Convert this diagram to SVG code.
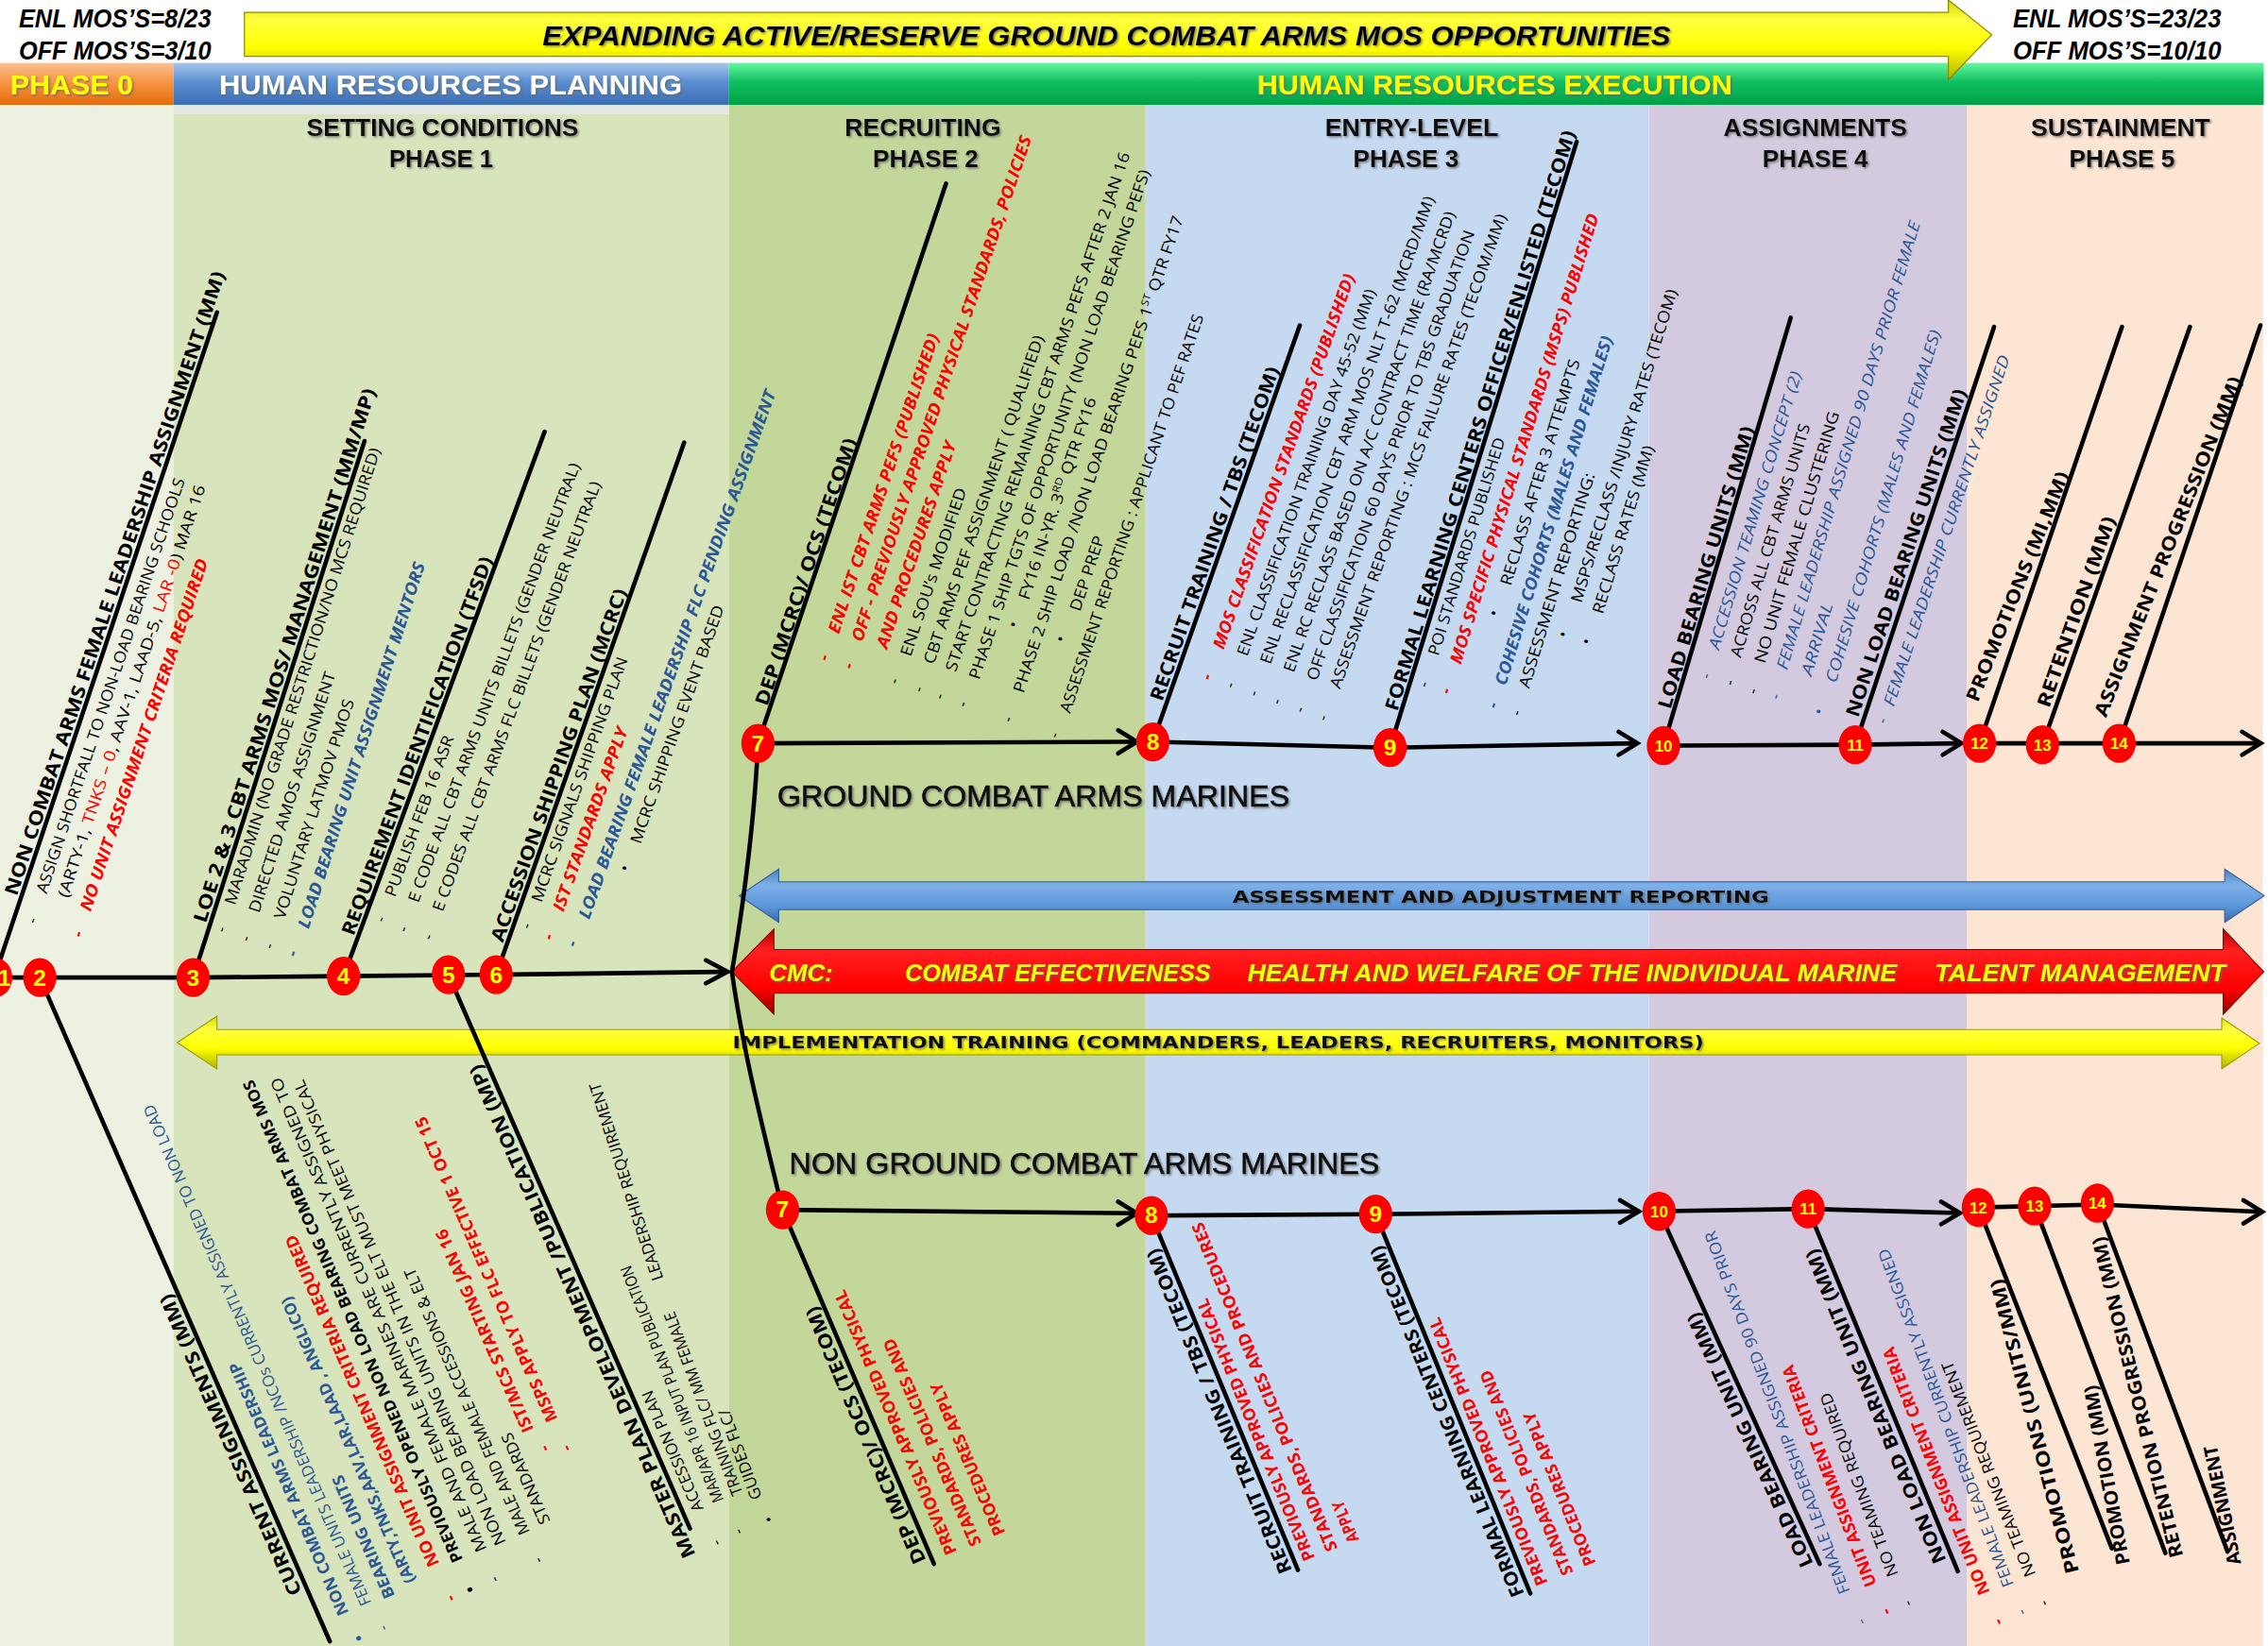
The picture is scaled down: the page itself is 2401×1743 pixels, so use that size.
<svg xmlns="http://www.w3.org/2000/svg" width="2401" height="1743" viewBox="0 0 2401 1743">
<defs>
<style>
.lb{font-family:'Open Sans','DejaVu Sans',sans-serif;font-weight:700;font-size:13px;fill:#000}
.it{font-family:'Open Sans','DejaVu Sans',sans-serif;font-size:11px;fill:#000}
.ib{font-family:'Open Sans','DejaVu Sans',sans-serif;font-weight:700;font-size:11px;fill:#000}
.rb{font-family:'Open Sans','DejaVu Sans',sans-serif;font-weight:700;font-style:italic;font-size:11.5px;fill:#f00}
.rd{font-family:'Open Sans','DejaVu Sans',sans-serif;font-weight:700;font-size:11.5px;fill:#f00}
.bb{font-family:'Open Sans','DejaVu Sans',sans-serif;font-weight:700;font-style:italic;font-size:11.5px;fill:#2B5797}
.bi{font-family:'Open Sans','DejaVu Sans',sans-serif;font-style:italic;font-size:11px;fill:#2B5797}
.bl{font-family:'Open Sans','DejaVu Sans',sans-serif;font-size:11px;fill:#2B5797}
.bu{font-family:'Open Sans','DejaVu Sans',sans-serif;font-weight:700;font-size:11px;fill:#2B5797}
.ttl{font-family:'Liberation Sans',Arial,sans-serif;font-weight:700;font-size:16.5px;fill:#111;text-anchor:middle}
.hd{font-family:'Liberation Sans',Arial,sans-serif;font-weight:700;font-size:19.5px}
.hi{font-family:'Liberation Sans',Arial,sans-serif;font-weight:700;font-style:italic;font-size:18px;fill:#000}
.cmc{font-family:'Liberation Sans',Arial,sans-serif;font-weight:700;font-style:italic;font-size:16.5px;fill:#FFFF00}
.bar{font-family:'DejaVu Sans',Verdana,sans-serif;font-weight:700;font-size:12px;fill:#111}
.mar{font-family:'Liberation Sans',Arial,sans-serif;font-size:20.5px;fill:#111;stroke:#111;stroke-width:0.45}
.num{font-family:'Liberation Sans',Arial,sans-serif;font-weight:700;font-size:16px;fill:#FFFF00;text-anchor:middle}
.ns{font-size:11px}
.node ellipse{fill:#FF0000}
.cn{stroke:#000;stroke-width:3;fill:none;stroke-linecap:round;stroke-linejoin:miter}
</style>
<linearGradient id="gOr" x1="0" y1="0" x2="0" y2="1"><stop offset="0" stop-color="#FAC090"/><stop offset="0.45" stop-color="#F79646"/><stop offset="1" stop-color="#E46C0A"/></linearGradient>
<linearGradient id="gBl" x1="0" y1="0" x2="0" y2="1"><stop offset="0" stop-color="#A7C7EE"/><stop offset="0.45" stop-color="#5B8FD0"/><stop offset="1" stop-color="#3A6DB5"/></linearGradient>
<linearGradient id="gGr" x1="0" y1="0" x2="0" y2="1"><stop offset="0" stop-color="#66F7A0"/><stop offset="0.45" stop-color="#10C060"/><stop offset="1" stop-color="#00A046"/></linearGradient>
<linearGradient id="gYe" x1="0" y1="0" x2="0" y2="1"><stop offset="0" stop-color="#D8D800"/><stop offset="0.25" stop-color="#FFFF40"/><stop offset="0.6" stop-color="#FFFF00"/><stop offset="1" stop-color="#B0B000"/></linearGradient>
<linearGradient id="gRd" x1="0" y1="0" x2="0" y2="1"><stop offset="0" stop-color="#B00000"/><stop offset="0.25" stop-color="#FF2020"/><stop offset="0.7" stop-color="#FF0000"/><stop offset="1" stop-color="#900000"/></linearGradient>
<linearGradient id="gBa" x1="0" y1="0" x2="0" y2="1"><stop offset="0" stop-color="#4A7FC0"/><stop offset="0.3" stop-color="#7FB0E8"/><stop offset="0.7" stop-color="#5A95D8"/><stop offset="1" stop-color="#3A6AAA"/></linearGradient>
<filter id="sh" x="-5%" y="-20%" width="110%" height="150%"><feDropShadow dx="1" dy="1" stdDeviation="0.7" flood-color="#666" flood-opacity="0.8"/></filter>
</defs>
<rect width="2401" height="1743" fill="#fff"/>
<g transform="scale(1.5313)">
<g id="columns">
<rect x="0" y="72" width="120" height="1070" fill="#EDF1E1"/>
<rect x="120" y="72" width="384" height="1070" fill="#D8E4BC"/>
<rect x="504" y="72" width="288" height="1070" fill="#C4D79B"/>
<rect x="792" y="72" width="348" height="1070" fill="#C5D9F1"/>
<rect x="1140" y="72" width="220" height="1070" fill="#D3CADF"/>
<rect x="1360" y="72" width="204.5" height="1070" fill="#FDE5D3"/>
<rect x="120" y="72" width="384" height="7" fill="#E6E8E2"/>
</g>
<g id="header">
<rect x="0" y="43.5" width="120" height="29" fill="url(#gOr)"/>
<rect x="120" y="43.5" width="384" height="29" fill="url(#gBl)"/>
<rect x="504" y="43.5" width="1061" height="29" fill="url(#gGr)"/>
<text class="hd" x="7" y="65" textLength="85" lengthAdjust="spacingAndGlyphs" fill="#FFFF00" filter="url(#sh)">PHASE 0</text>
<text class="hd" x="151.5" y="65" textLength="320" lengthAdjust="spacingAndGlyphs" fill="#fff" filter="url(#sh)">HUMAN RESOURCES PLANNING</text>
<text class="hd" x="869" y="65" textLength="328.5" lengthAdjust="spacingAndGlyphs" fill="#FFFF00" filter="url(#sh)">HUMAN RESOURCES EXECUTION</text>
<path d="M169 8.5 L1347 8.5 L1347 0 L1377 24 L1347 55 L1347 39 L169 39 Z" fill="url(#gYe)" stroke="#8C8C00" stroke-width="0.8"/>
<text class="hd" x="375" y="31.4" textLength="780" lengthAdjust="spacingAndGlyphs" font-style="italic" fill="#000" filter="url(#sh)">EXPANDING ACTIVE/RESERVE GROUND COMBAT ARMS MOS OPPORTUNITIES</text>
<text class="hi" x="13" y="19" textLength="133" lengthAdjust="spacingAndGlyphs">ENL MOS’S=8/23</text>
<text class="hi" x="13" y="41" textLength="133" lengthAdjust="spacingAndGlyphs">OFF MOS’S=3/10</text>
<text class="hi" x="1391.6" y="19" textLength="144" lengthAdjust="spacingAndGlyphs">ENL MOS’S=23/23</text>
<text class="hi" x="1391.6" y="41" textLength="144" lengthAdjust="spacingAndGlyphs">OFF MOS’S=10/10</text>
</g>
<g id="titles" filter="url(#sh)">
<text class="ttl" x="306" y="94" textLength="188" lengthAdjust="spacingAndGlyphs">SETTING CONDITIONS</text>
<text class="ttl" x="305" y="115.5" textLength="72" lengthAdjust="spacingAndGlyphs">PHASE 1</text>
<text class="ttl" x="638" y="94" textLength="108" lengthAdjust="spacingAndGlyphs">RECRUITING</text>
<text class="ttl" x="640" y="115.5" textLength="73" lengthAdjust="spacingAndGlyphs">PHASE 2</text>
<text class="ttl" x="976" y="94" textLength="120" lengthAdjust="spacingAndGlyphs">ENTRY-LEVEL</text>
<text class="ttl" x="972" y="115.5" textLength="73" lengthAdjust="spacingAndGlyphs">PHASE 3</text>
<text class="ttl" x="1255" y="94" textLength="127" lengthAdjust="spacingAndGlyphs">ASSIGNMENTS</text>
<text class="ttl" x="1255" y="115.5" textLength="73" lengthAdjust="spacingAndGlyphs">PHASE 4</text>
<text class="ttl" x="1466" y="94" textLength="124" lengthAdjust="spacingAndGlyphs">SUSTAINMENT</text>
<text class="ttl" x="1467" y="115.5" textLength="73" lengthAdjust="spacingAndGlyphs">PHASE 5</text>
</g>
<g id="bands">
<path d="M511 619.4 L538.4 601 L538.4 609.8 L1538 609.8 L1538 601 L1565.4 619.4 L1538 637.8 L1538 629 L538.4 629 L538.4 637.8 Z" fill="url(#gBa)" stroke="#2F5F9F" stroke-width="0.7"/>
<text class="bar" x="852" y="624.3" textLength="371" lengthAdjust="spacingAndGlyphs" filter="url(#sh)">ASSESSMENT AND ADJUSTMENT REPORTING</text>
<path d="M506 672 L535 642.4 L535 656.6 L1537 656.6 L1537 642.4 L1565 672 L1537 701.4 L1537 686.8 L535 686.8 L535 701.4 Z" fill="url(#gRd)" stroke="#800000" stroke-width="0.7"/>
<g filter="url(#sh)">
<text class="cmc" x="531.8" y="678.5" textLength="44" lengthAdjust="spacingAndGlyphs">CMC:</text>
<text class="cmc" x="625.6" y="678.5" textLength="211.4" lengthAdjust="spacingAndGlyphs">COMBAT EFFECTIVENESS</text>
<text class="cmc" x="862.3" y="678.5" textLength="449" lengthAdjust="spacingAndGlyphs">HEALTH AND WELFARE OF THE INDIVIDUAL MARINE</text>
<text class="cmc" x="1337.5" y="678.5" textLength="201" lengthAdjust="spacingAndGlyphs">TALENT MANAGEMENT</text>
</g>
<path d="M122.6 721 L150 702.7 L150 712 L1536 712 L1536 704 L1562 721.5 L1536 739 L1536 729.5 L150 729.5 L150 739.3 Z" fill="url(#gYe)" stroke="#9A9A00" stroke-width="0.7"/>
<text class="bar" x="506.4" y="725" textLength="671.6" lengthAdjust="spacingAndGlyphs" filter="url(#sh)">IMPLEMENTATION TRAINING (COMMANDERS, LEADERS, RECRUITERS, MONITORS)</text>
<text class="mar" x="537.5" y="557.7" textLength="354" lengthAdjust="spacingAndGlyphs" filter="url(#sh)">GROUND COMBAT ARMS MARINES</text>
<text class="mar" x="545.7" y="812" textLength="408" lengthAdjust="spacingAndGlyphs" filter="url(#sh)">NON GROUND COMBAT ARMS MARINES</text>
</g>
<g id="connectors" class="cn">
<path d="M-10 676 L133.5 676 L237.5 675 L343 674 L502 672"/>
<path d="M488 664 L503 672 L488 680"/>
<path d="M524 514 C522 560 515 620 506 672 C514 730 530 790 541 836.6"/>
<path d="M524 514 L785 513"/><path d="M773 505 L786 513 L773 521"/>
<path d="M797 513 L961 517 L1131 514"/><path d="M1119 506 L1132 514 L1119 522"/>
<path d="M1150 515.6 L1282.6 515 L1355 514"/><path d="M1343 506 L1356 514 L1343 522"/>
<path d="M1368.5 514 L1562 514"/><path d="M1550 506 L1563 514 L1550 522"/>
<path d="M541 836.6 L785 839"/><path d="M773 831 L786 839 L773 847"/>
<path d="M796 840.6 L951 839.6 L1132 837.7"/><path d="M1120 830 L1133 837.7 L1120 845.5"/>
<path d="M1147 837.6 L1250 836 L1354 838.8"/><path d="M1342 831 L1355 838.8 L1342 846.6"/>
<path d="M1367.7 835 L1450 833 L1563 838"/><path d="M1551 830 L1564 838 L1551 846"/>
<path d="M-4 676 L150 216"/>
<path d="M133.5 676 L252 305"/>
<path d="M237.5 675 L376.5 298.5"/>
<path d="M343 674 L473 306"/>
<path d="M524 514 L654 127"/>
<path d="M797 513 L898.6 225"/>
<path d="M961 517 L1090 98"/>
<path d="M1150 515.6 L1238 219.7"/>
<path d="M1282.6 515 L1378.6 226"/>
<path d="M1368.5 514 L1467 226"/>
<path d="M1412 515 L1514 226"/>
<path d="M1465 514 L1562.7 225"/>
<path d="M27.5 676 L228 1135"/>
<path d="M310 674 L477 1057"/>
<path d="M541 836.6 L645.7 1081.5"/>
<path d="M796 840.6 L897.3 1085.7"/>
<path d="M951 839.6 L1058 1102"/>
<path d="M1147 837.6 L1258 1081.5"/>
<path d="M1250 836 L1353.5 1086.5"/>
<path d="M1367.7 835 L1460 1070.7"/>
<path d="M1406.6 834 L1497 1074"/>
<path d="M1450 832 L1540 1073"/>
</g>
<g id="lab-1" transform="translate(-4 676) rotate(-71.5)">
<text class="lb" x="58" y="-3" textLength="454" lengthAdjust="spacingAndGlyphs">NON COMBAT ARMS FEMALE LEADERSHIP  ASSIGNMENT (MM)</text>
<text class="it" x="44" y="16">-</text>
<text class="it" x="66" y="16" textLength="302" lengthAdjust="spacingAndGlyphs">ASSIGN SHORTFALL TO NON-LOAD BEARING SCHOOLS</text>
<text class="it" x="68" y="31" textLength="300" lengthAdjust="spacingAndGlyphs">(ARTY-1, <tspan fill="#f00">TNKS – 0</tspan>, AAV-1,  LAAD-5,  <tspan fill="#f00">LAR -0</tspan>)  MAR 16</text>
<text class="rb" x="45" y="49">-</text>
<text class="rb" x="64" y="49" textLength="256" lengthAdjust="spacingAndGlyphs">NO UNIT ASSIGNMENT CRITERIA REQUIRED</text>
</g>
<g id="lab-3" transform="translate(133.5 676) rotate(-72.3)">
<text class="lb" x="38" y="-3" textLength="387" lengthAdjust="spacingAndGlyphs">LOE 2 &amp; 3 CBT ARMS MOS/ MANAGEMENT (MM/MP)</text>
<text class="it" x="36" y="12">-</text>
<text class="it" x="56" y="12.5" textLength="331" lengthAdjust="spacingAndGlyphs">MARADMIN (NO GRADE RESTRICTION/NO MCS REQUIRED)</text>
<text class="it" x="35" y="30">-</text>
<text class="it" x="56" y="30" textLength="174" lengthAdjust="spacingAndGlyphs">DIRECTED AMOS ASSIGNMENT</text>
<text class="it" x="35" y="47">-</text>
<text class="it" x="57" y="48" textLength="159" lengthAdjust="spacingAndGlyphs">VOLUNTARY LATMOV PMOS</text>
<text class="bb" x="35" y="64">-</text>
<text class="bb" x="56" y="66" textLength="265" lengthAdjust="spacingAndGlyphs">LOAD BEARING UNIT ASSIGNMENT MENTORS</text>
</g>
<g id="lab-4" transform="translate(237.5 675) rotate(-69.7)">
<text class="lb" x="28" y="-3" textLength="278" lengthAdjust="spacingAndGlyphs">REQUIREMENT IDENTIFICATION (TFSD)</text>
<text class="it" x="44" y="14">-</text>
<text class="it" x="63" y="14.5" textLength="118" lengthAdjust="spacingAndGlyphs">PUBLISH FEB 16 ASR</text>
<text class="it" x="43" y="31">-</text>
<text class="it" x="65" y="31" textLength="323" lengthAdjust="spacingAndGlyphs">E CODE ALL CBT ARMS UNITS BILLETS (GENDER NEUTRAL)</text>
<text class="it" x="44" y="49">-</text>
<text class="it" x="65" y="49" textLength="316" lengthAdjust="spacingAndGlyphs">E CODES ALL CBT ARMS FLC BILLETS (GENDER NEUTRAL)</text>
</g>
<g id="lab-6" transform="translate(343 674) rotate(-70.5)">
<text class="lb" x="22" y="-3" textLength="258" lengthAdjust="spacingAndGlyphs">ACCESSION SHIPPING PLAN (MCRC)</text>
<text class="it" x="37" y="12">-</text>
<text class="it" x="57" y="13" textLength="179" lengthAdjust="spacingAndGlyphs">MCRC SIGNALS  SHIPPING PLAN</text>
<text class="rb" x="35" y="29">-</text>
<text class="rb" x="56" y="29.5" textLength="134" lengthAdjust="spacingAndGlyphs">IST STANDARDS APPLY</text>
<text class="bb" x="36" y="46">-</text>
<text class="bb" x="57" y="48" textLength="387" lengthAdjust="spacingAndGlyphs">LOAD BEARING  FEMALE LEADERSHIP  FLC  PENDING ASSIGNMENT</text>
<text class="it" x="97" y="63">•</text>
<text class="it" x="118" y="64" textLength="174" lengthAdjust="spacingAndGlyphs">MCRC SHIPPING EVENT BASED</text>
</g>
<g id="lab-7" transform="translate(524 514) rotate(-71.4)">
<text class="lb" x="26" y="-2" textLength="194" lengthAdjust="spacingAndGlyphs">DEP (MCRC)/ OCS (TECOM)</text>
<text class="rb" x="69" y="28">-</text><text class="rb" x="69" y="46">-</text>
<text class="it" x="69" y="79">-</text><text class="it" x="69" y="97">-</text><text class="it" x="69" y="112">-</text><text class="it" x="69" y="129">-</text><text class="it" x="69" y="162">-</text><text class="it" x="69" y="196">-</text>
<text class="rb" x="89" y="29" textLength="218" lengthAdjust="spacingAndGlyphs">ENL IST CBT ARMS PEFS  (PUBLISHED)</text>
<text class="rb" x="89" y="46" textLength="368" lengthAdjust="spacingAndGlyphs">OFF - PREVIOUSLY APPROVED PHYSICAL STANDARDS, POLICIES</text>
<text class="rb" x="90" y="64" textLength="150" lengthAdjust="spacingAndGlyphs">AND PROCEDURES APPLY</text>
<text class="it" x="90" y="81" textLength="122" lengthAdjust="spacingAndGlyphs">ENL SOU’s MODIFIED</text>
<text class="it" x="90" y="98" textLength="239" lengthAdjust="spacingAndGlyphs">CBT ARMS PEF ASSIGNMENT ( QUALIFIED)</text>
<text class="it" x="90" y="114" textLength="378" lengthAdjust="spacingAndGlyphs">START CONTRACTING REMAINING CBT ARMS PEFS AFTER  2 JAN 16</text>
<text class="it" x="90" y="131" textLength="371" lengthAdjust="spacingAndGlyphs">PHASE 1 SHIP TGTS OF OPPORTUNITY  (NON LOAD BEARING PEFS)</text>
<text class="it" x="132" y="145">•</text>
<text class="it" x="153" y="146" textLength="147" lengthAdjust="spacingAndGlyphs">FY16 IN-YR. 3<tspan font-size="7" dy="-4">RD</tspan><tspan dy="4">  QTR FY16</tspan></text>
<text class="it" x="91" y="163" textLength="347" lengthAdjust="spacingAndGlyphs">PHASE 2 SHIP LOAD /NON LOAD BEARING  PEFS  1<tspan font-size="7" dy="-4">ST</tspan><tspan dy="4"> QTR FY17</tspan></text>
<text class="it" x="133" y="179">•</text>
<text class="it" x="157" y="182" textLength="54" lengthAdjust="spacingAndGlyphs">DEP PREP</text>
<text class="it" x="88" y="198" textLength="290" lengthAdjust="spacingAndGlyphs">ASSESSMENT REPORTING : APPLICANT TO PEF RATES</text>
</g>
<g id="lab-8" transform="translate(797 513) rotate(-70.6)">
<text class="lb" x="28" y="-3" textLength="244" lengthAdjust="spacingAndGlyphs">RECRUIT TRAINING / TBS (TECOM)</text>
<text class="rb" x="53" y="24">-</text><text class="it" x="53" y="41">-</text><text class="it" x="53" y="58">-</text><text class="it" x="53" y="75">-</text><text class="it" x="53" y="92">-</text><text class="it" x="53" y="109">-</text>
<text class="rb" x="76" y="25" textLength="274" lengthAdjust="spacingAndGlyphs">MOS CLASSIFICATION STANDARDS (PUBLISHED)</text>
<text class="it" x="77" y="42" textLength="268" lengthAdjust="spacingAndGlyphs">ENL CLASSIFICATION TRAINING DAY 45-52 (MM)</text>
<text class="it" x="77" y="59" textLength="342" lengthAdjust="spacingAndGlyphs">ENL RECLASSIFICATION CBT ARM MOS NLT T-62 (MCRD/MM)</text>
<text class="it" x="77" y="76" textLength="337" lengthAdjust="spacingAndGlyphs">ENL RC RECLASS BASED ON A/C CONTRACT TIME (RA/MCRD)</text>
<text class="it" x="77" y="93" textLength="329" lengthAdjust="spacingAndGlyphs">OFF CLASSIFICATION  60 DAYS PRIOR TO TBS GRADUATION</text>
<text class="it" x="77" y="110" textLength="347" lengthAdjust="spacingAndGlyphs">ASSESSMENT REPORTING : MCS FAILURE RATES (TECOM/MM)</text>
</g>
<g id="lab-9" transform="translate(961 517) rotate(-72.9)">
<text class="lb" x="25" y="-2.5" textLength="419" lengthAdjust="spacingAndGlyphs">FORMAL LEARNING CENTERS OFFICER/ENLISTED  (TECOM)</text>
<text class="it" x="47" y="13">-</text>
<text class="it" x="70" y="13.5" textLength="157" lengthAdjust="spacingAndGlyphs">POI STANDARDS PUBLISHED</text>
<text class="rb" x="47" y="29">-</text>
<text class="rb" x="69" y="30" textLength="325" lengthAdjust="spacingAndGlyphs">MOS SPECIFIC PHYSICAL STANDARDS (MSPS) PUBLISHED</text>
<text class="it" x="108" y="45">•</text>
<text class="it" x="131" y="47" textLength="163" lengthAdjust="spacingAndGlyphs">RECLASS AFTER 3 ATTEMPTS</text>
<text class="bb" x="47" y="63">-</text>
<text class="bb" x="64" y="64" textLength="252" lengthAdjust="spacingAndGlyphs">COHESIVE COHORTS (MALES AND FEMALES)</text>
<text class="it" x="47" y="80">-</text>
<text class="it" x="67" y="80" textLength="155" lengthAdjust="spacingAndGlyphs">ASSESSMENT  REPORTING:</text>
<text class="it" x="108" y="95">•</text>
<text class="it" x="134" y="97" textLength="226" lengthAdjust="spacingAndGlyphs">MSPS/RECLASS /INJURY RATES (TECOM)</text>
<text class="it" x="108" y="112">•</text>
<text class="it" x="131" y="113.5" textLength="121" lengthAdjust="spacingAndGlyphs">RECLASS RATES (MM)</text>
</g>
<g id="lab-10" transform="translate(1150 515.6) rotate(-73.4)">
<text class="lb" x="25" y="-2.5" textLength="203" lengthAdjust="spacingAndGlyphs">LOAD BEARING UNITS (MM)</text>
<text class="bi" x="53" y="18">-</text>
<text class="bi" x="74" y="18" textLength="200" lengthAdjust="spacingAndGlyphs">ACCESSION TEAMING CONCEPT (2)</text>
<text class="it" x="53" y="35">-</text>
<text class="it" x="73" y="34" textLength="168" lengthAdjust="spacingAndGlyphs">ACROSS ALL CBT ARMS UNITS</text>
<text class="it" x="52" y="52">-</text>
<text class="it" x="74" y="51" textLength="181" lengthAdjust="spacingAndGlyphs">NO  UNIT  FEMALE CLUSTERING</text>
<text class="bi" x="53" y="68">-</text>
<text class="bi" x="74" y="67" textLength="323" lengthAdjust="spacingAndGlyphs">FEMALE LEADERSHIP ASSIGNED 90 DAYS PRIOR FEMALE</text>
<text class="bi" x="75" y="84.5" textLength="52" lengthAdjust="spacingAndGlyphs">ARRIVAL</text>
<text class="bi" x="51" y="100">•</text>
<text class="bi" x="75" y="102" textLength="254" lengthAdjust="spacingAndGlyphs">COHESIVE COHORTS (MALES AND FEMALES)</text>
</g>
<g id="lab-11" transform="translate(1282.6 515) rotate(-71.6)">
<text class="lb" x="18" y="-4" textLength="238" lengthAdjust="spacingAndGlyphs">NON LOAD BEARING UNITS (MM)</text>
<text class="bi" x="20" y="16">-</text>
<text class="bi" x="33" y="17" textLength="255" lengthAdjust="spacingAndGlyphs">FEMALE LEADERSHIP CURRENTLY  ASSIGNED</text>
</g>
<g id="lab-12" transform="translate(1362.7 484.3) rotate(-68.2)">
<text class="lb" x="0" y="5" textLength="170" lengthAdjust="spacingAndGlyphs">PROMOTIONS (MI,MM)</text>
</g>
<g id="lab-13" transform="translate(1412 515) rotate(-70.6)">
<text class="lb" x="25" y="-4" textLength="139" lengthAdjust="spacingAndGlyphs">RETENTION (MM)</text>
</g>
<g id="lab-14" transform="translate(1451.3 494.7) rotate(-68.1)">
<text class="lb" x="0" y="5" textLength="252" lengthAdjust="spacingAndGlyphs">ASSIGNMENT PROGRESSION (MM)</text>
</g>
<g id="lab-2" transform="translate(27.5 676) rotate(-113.6)">
<text class="lb" x="-462" y="-4" textLength="226" lengthAdjust="spacingAndGlyphs">CURRENT  ASSIGNMENTS (MM)</text>
<text class="bu" x="-509" y="23">•</text>
<text class="bl" x="-509" y="41">-</text>
<text class="rd" x="-509" y="92">-</text>
<text class="ib" x="-509" y="107">•</text>
<text class="it" x="-509" y="125">-</text>
<text class="it" x="-509" y="158">-</text>
<text class="rd" x="-440" y="193">-</text>
<text class="rd" x="-446" y="207">-</text>
<text class="bu" x="-488" y="20" textLength="190" lengthAdjust="spacingAndGlyphs">NON COMBAT ARMS LEADERSHIP</text>
<text class="bl" x="-488" y="37" textLength="377" lengthAdjust="spacingAndGlyphs">FEMALE UNITS  LEADERSHIP /NCOs CURRENTLY ASSIGNED TO NON LOAD</text>
<text class="bu" x="-490" y="54" textLength="92" lengthAdjust="spacingAndGlyphs">BEARING UNITS</text>
<text class="bu" x="-486" y="71" textLength="215" lengthAdjust="spacingAndGlyphs">(ARTY,TNKS,AAV,LAR,LAAD , ANGLICO)</text>
<text class="rd" x="-482" y="91" textLength="249" lengthAdjust="spacingAndGlyphs">NO UNIT ASSIGNMENT CRITERIA REQUIRED</text>
<text class="ib" x="-486" y="107" textLength="363" lengthAdjust="spacingAndGlyphs">PREVIOUSLY OPENED NON LOAD BEARING COMBAT ARMS MOS</text>
<text class="it" x="-486" y="125" textLength="357" lengthAdjust="spacingAndGlyphs">MALE AND FEMALE MARINES ARE CURRENTLY ASSIGNED TO</text>
<text class="it" x="-487" y="139" textLength="350" lengthAdjust="spacingAndGlyphs">NON LOAD BEARING UNITS IN THE ELT MUST MEET PHYSICAL</text>
<text class="it" x="-487" y="157" textLength="200" lengthAdjust="spacingAndGlyphs">MALE AND FEMALE ACCESSIONS &amp; ELT</text>
<text class="it" x="-486" y="173" textLength="68" lengthAdjust="spacingAndGlyphs">STANDARDS</text>
<text class="rd" x="-423" y="188" textLength="152" lengthAdjust="spacingAndGlyphs">IST/MCS  STARTING JAN 16</text>
<text class="rd" x="-423" y="206" textLength="229" lengthAdjust="spacingAndGlyphs">MSPS APPLY TO FLC  EFFECTIVE 1 OCT 15</text>
</g>
<g id="lab-5" transform="translate(310 674) rotate(-113.6)">
<text class="lb" x="-436" y="-4" textLength="371" lengthAdjust="spacingAndGlyphs">MASTER  PLAN DEVELOPMENT /PUBLICATION (MP)</text>
<text class="it" x="-436" y="16">-</text>
<text class="it" x="-435" y="33">-</text>
<text class="it" x="-409" y="14" textLength="90" lengthAdjust="spacingAndGlyphs">ACCESSION PLAN</text>
<text class="it" transform="translate(-409 29) rotate(2)" textLength="175" lengthAdjust="spacingAndGlyphs">MAR/APR 16 INPUT PLAN PUBLICATION</text>
<text class="it" transform="translate(-410 43) rotate(3)" textLength="135" lengthAdjust="spacingAndGlyphs">TRAINING FLC/ MM FEMALE</text>
<text class="it" x="-436" y="56">•</text>
<text class="it" transform="translate(-418 54) rotate(3)" textLength="66" lengthAdjust="spacingAndGlyphs">GUIDES FLC/</text>
<text class="it" transform="translate(-252 52) rotate(5.7)" textLength="143" lengthAdjust="spacingAndGlyphs">LEADERSHIP  REQUIREMENT</text>
</g>
<g id="lab-7b" transform="translate(541 836.6) rotate(-113.15)">
<text class="lb" x="-262" y="-4" textLength="192" lengthAdjust="spacingAndGlyphs">DEP (MCRC)/ OCS (TECOM)</text>
<text class="rd" x="-265" y="18" textLength="198" lengthAdjust="spacingAndGlyphs">PREVIOUSLY  APPROVED PHYSICAL</text>
<text class="rd" x="-266" y="36" textLength="155" lengthAdjust="spacingAndGlyphs">STANDARDS, POLICIES AND</text>
<text class="rd" x="-266" y="54" textLength="114" lengthAdjust="spacingAndGlyphs">PROCEDURES APPLY</text>
</g>
<g id="lab-8b" transform="translate(796 840.6) rotate(-112.5)">
<text class="lb" x="-264" y="-4" textLength="242" lengthAdjust="spacingAndGlyphs">RECRUIT TRAINING / TBS (TECOM)</text>
<text class="rd" x="-262" y="14" textLength="195" lengthAdjust="spacingAndGlyphs">PREVIOUSLY APPROVED PHYSICAL</text>
<text class="rd" x="-262" y="31" textLength="245" lengthAdjust="spacingAndGlyphs">STANDARDS, POLICIES AND PROCEDURES</text>
<text class="rd" x="-262" y="47" textLength="30" lengthAdjust="spacingAndGlyphs">APPLY</text>
</g>
<g id="lab-9b" transform="translate(951 839.6) rotate(-112.2)">
<text class="lb" x="-282" y="-4" textLength="261" lengthAdjust="spacingAndGlyphs">FORMAL LEARNING CENTERS  (TECOM)</text>
<text class="rd" x="-281" y="14" textLength="199" lengthAdjust="spacingAndGlyphs">PREVIOUSLY  APPROVED PHYSICAL</text>
<text class="rd" x="-281" y="33" textLength="152" lengthAdjust="spacingAndGlyphs">STANDARDS, POLICIES AND</text>
<text class="rd" x="-281" y="50" textLength="114" lengthAdjust="spacingAndGlyphs">PROCEDURES APPLY</text>
</g>
<g id="lab-10b" transform="translate(1147 837.6) rotate(-114.5)">
<text class="lb" x="-266" y="-4" textLength="192" lengthAdjust="spacingAndGlyphs">LOAD BEARING UNIT (MM)</text>
<text class="bl" x="-318" y="13">-</text><text class="rd" x="-319" y="31.6">-</text><text class="it" x="-320" y="47.5">-</text>
<text class="bl" transform="translate(-294 11) rotate(4)" textLength="267" lengthAdjust="spacingAndGlyphs">FEMALE LEADERSHIP ASSIGNED 90 DAYS PRIOR</text>
<text class="rd" transform="translate(-297 30) rotate(3.6)" textLength="163" lengthAdjust="spacingAndGlyphs">UNIT ASSIGNMENT CRITERIA</text>
<text class="it" transform="translate(-297 46.5) rotate(4)" textLength="135" lengthAdjust="spacingAndGlyphs">NO TEAMING REQUIRED</text>
</g>
<g id="lab-11b" transform="translate(1250 836) rotate(-112.45)">
<text class="lb" x="-261" y="-4.5" textLength="234" lengthAdjust="spacingAndGlyphs">NON LOAD BEARING UNIT (MM)</text>
<text class="rd" x="-316" y="16">-</text><text class="bl" x="-316" y="33.5">-</text><text class="it" x="-316" y="50">-</text>
<text class="rd" transform="translate(-293 15) rotate(1)" textLength="183" lengthAdjust="spacingAndGlyphs">NO UNIT ASSIGNMENT CRITERIA</text>
<text class="bl" transform="translate(-294.5 32.3) rotate(2)" textLength="249" lengthAdjust="spacingAndGlyphs">FEMALE LEADERSHIP CURRENTLY  ASSIGNED</text>
<text class="it" transform="translate(-293.6 49) rotate(1)" textLength="159" lengthAdjust="spacingAndGlyphs">NO TEAMING REQUIREMENT</text>
</g>
<g id="lab-12b">
<text class="lb" transform="translate(1433 1088) rotate(-104.6)" y="4.5" textLength="210" lengthAdjust="spacingAndGlyphs">PROMOTIONS (UNITS/MM)</text>
<text class="lb" transform="translate(1468 1082) rotate(-100.5)" y="4.5" textLength="126" lengthAdjust="spacingAndGlyphs">PROMOTION (MM)</text>
<text class="lb" transform="translate(1505 1077) rotate(-103.8)" y="4.5" textLength="228" lengthAdjust="spacingAndGlyphs">RETENTION PROGRESSION (MM)</text>
<text class="lb" transform="translate(1545 1082) rotate(-101.7)" y="4.5" textLength="84" lengthAdjust="spacingAndGlyphs">ASSIGNMENT</text>
</g>
<g id="nodes">
<g id="node-1" class="node"><ellipse cx="-3" cy="676" rx="11.5" ry="13.5"/><text class="num" x="3" y="681.5">1</text></g>
<g id="node-2" class="node"><ellipse cx="27.5" cy="676" rx="11.5" ry="13.5"/><text class="num" x="27.5" y="681.5">2</text></g>
<g id="node-3" class="node"><ellipse cx="133.5" cy="676" rx="11.5" ry="13.5"/><text class="num" x="133.5" y="681.5">3</text></g>
<g id="node-4" class="node"><ellipse cx="237.5" cy="675" rx="11.5" ry="13.5"/><text class="num" x="237.5" y="680.5">4</text></g>
<g id="node-5" class="node"><ellipse cx="310" cy="674" rx="11.5" ry="13.5"/><text class="num" x="310" y="679.5">5</text></g>
<g id="node-6" class="node"><ellipse cx="343" cy="674" rx="11.5" ry="13.5"/><text class="num" x="343" y="679.5">6</text></g>
<g id="node-7a" class="node"><ellipse cx="524" cy="514" rx="11.5" ry="13.5"/><text class="num" x="524" y="519.5">7</text></g>
<g id="node-8a" class="node"><ellipse cx="797" cy="513" rx="11.5" ry="13.5"/><text class="num" x="797" y="518.5">8</text></g>
<g id="node-9a" class="node"><ellipse cx="961" cy="517" rx="11.5" ry="13.5"/><text class="num" x="961" y="522.5">9</text></g>
<g id="node-10a" class="node"><ellipse cx="1150" cy="515.6" rx="11.5" ry="13.5"/><text class="num ns" x="1150" y="519.6">10</text></g>
<g id="node-11a" class="node"><ellipse cx="1282.6" cy="515" rx="11.5" ry="13.5"/><text class="num ns" x="1282.6" y="519">11</text></g>
<g id="node-12a" class="node"><ellipse cx="1368.5" cy="514" rx="11.5" ry="13.5"/><text class="num ns" x="1368.5" y="518">12</text></g>
<g id="node-13a" class="node"><ellipse cx="1412" cy="515" rx="11.5" ry="13.5"/><text class="num ns" x="1412" y="519">13</text></g>
<g id="node-14a" class="node"><ellipse cx="1465" cy="514" rx="11.5" ry="13.5"/><text class="num ns" x="1465" y="518">14</text></g>
<g id="node-7b" class="node"><ellipse cx="541" cy="836.6" rx="11.5" ry="13.5"/><text class="num" x="541" y="842">7</text></g>
<g id="node-8b" class="node"><ellipse cx="796" cy="840.6" rx="11.5" ry="13.5"/><text class="num" x="796" y="846">8</text></g>
<g id="node-9b" class="node"><ellipse cx="951" cy="839.6" rx="11.5" ry="13.5"/><text class="num" x="951" y="845">9</text></g>
<g id="node-10b" class="node"><ellipse cx="1147" cy="837.6" rx="11.5" ry="13.5"/><text class="num ns" x="1147" y="841.6">10</text></g>
<g id="node-11b" class="node"><ellipse cx="1250" cy="836" rx="11.5" ry="13.5"/><text class="num ns" x="1250" y="840">11</text></g>
<g id="node-12b" class="node"><ellipse cx="1367.7" cy="835" rx="11.5" ry="13.5"/><text class="num ns" x="1367.7" y="839">12</text></g>
<g id="node-13b" class="node"><ellipse cx="1406.6" cy="834" rx="11.5" ry="13.5"/><text class="num ns" x="1406.6" y="838">13</text></g>
<g id="node-14b" class="node"><ellipse cx="1450" cy="832" rx="11.5" ry="13.5"/><text class="num ns" x="1450" y="836">14</text></g>
</g>
</g>
</svg>
